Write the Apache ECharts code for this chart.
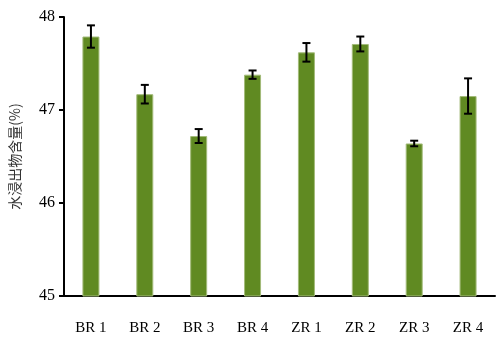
<!DOCTYPE html>
<html><head><meta charset="utf-8">
<script src="https://cdn.jsdelivr.net/npm/echarts@6/dist/echarts.min.js"></script>
<style>html,body{margin:0;padding:0;background:#fff}#c{width:500px;height:342px}</style>
</head><body><div id="c"></div>
<script>
const categories = ['BR 1','BR 2','BR 3','BR 4','ZR 1','ZR 2','ZR 3','ZR 4'];
const means = [47.79, 47.17, 46.72, 47.38, 47.62, 47.71, 46.64, 47.15];
const errors = [0.12, 0.10, 0.075, 0.045, 0.10, 0.08, 0.03, 0.19];
const yTicks = [45, 46, 47, 48];

const errData = means.map((m, i) => [i, m - errors[i], m + errors[i]]);
const chart = echarts.init(document.getElementById('c'));
chart.setOption({
  animation: false,
  grid: {left: 62, right: 5, top: 17, bottom: 46},
  xAxis: {
    type: 'category', data: categories,
    axisLine: {lineStyle: {color: '#000', width: 2}},
    axisTick: {show: false},
    axisLabel: {color: '#000', fontFamily: 'Liberation Serif', fontSize: 15, margin: 25}
  },
  yAxis: {
    type: 'value', min: yTicks[0], max: yTicks[yTicks.length-1], interval: 1,
    name: '水浸出物含量(%)', nameLocation: 'middle', nameGap: 42,
    nameTextStyle: {color: '#333', fontFamily: 'Noto Sans CJK SC', fontSize: 14},
    axisLine: {show: true, lineStyle: {color: '#000', width: 2}},
    axisTick: {show: true, length: 5, lineStyle: {color: '#000', width: 2}},
    axisLabel: {color: '#000', fontFamily: 'Liberation Serif', fontSize: 16, margin: 9},
    splitLine: {show: false}
  },
  series: [
    {type: 'bar', data: means, barWidth: 17,
     itemStyle: {color: '#608a22', borderColor: '#a3bb7a', borderWidth: 1}},
    {type: 'custom', data: errData, z: 10,
     renderItem: function (params, api) {
       const x = api.value(0);
       const lo = api.coord([x, api.value(1)]);
       const hi = api.coord([x, api.value(2)]);
       const hw = 4;
       const style = {stroke: '#000', lineWidth: 2};
       return {type: 'group', children: [
         {type: 'line', shape: {x1: lo[0], y1: lo[1], x2: hi[0], y2: hi[1]}, style: style},
         {type: 'line', shape: {x1: lo[0]-hw, y1: lo[1], x2: lo[0]+hw, y2: lo[1]}, style: style},
         {type: 'line', shape: {x1: hi[0]-hw, y1: hi[1], x2: hi[0]+hw, y2: hi[1]}, style: style}
       ]};
     }}
  ]
});
</script></body></html>
